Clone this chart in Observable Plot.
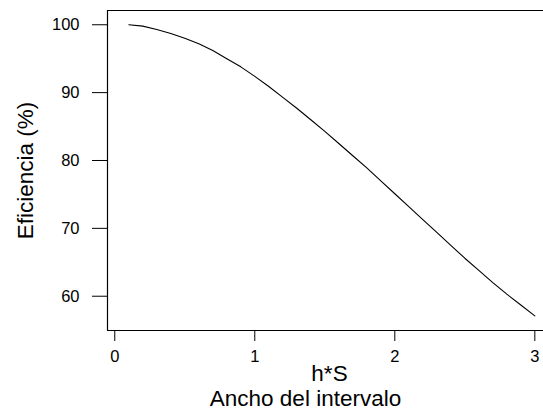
<!DOCTYPE html>
<html>
<head>
<meta charset="utf-8">
<script src="https://cdn.jsdelivr.net/npm/d3@7"></script>
<script src="https://cdn.jsdelivr.net/npm/@observablehq/plot@0.6"></script>
<style>
  html, body { margin: 0; padding: 0; background: #fff; }
  #chart svg { display: block; }
</style>
</head>
<body>
<div id="chart"></div>
<script>
// Data
const anchoIntervalo = [0.1, 0.2, 0.3, 0.4, 0.5, 0.6, 0.7, 0.8, 0.9, 1.0,
                        1.1, 1.2, 1.3, 1.4, 1.5, 1.6, 1.7, 1.8, 1.9, 2.0,
                        2.1, 2.2, 2.3, 2.4, 2.5, 2.6, 2.7, 2.8, 2.9, 3.0];
const eficiencia = [100.0, 99.8, 99.3, 98.7, 98.0, 97.2, 96.2, 95.0, 93.8, 92.4,
                    90.9, 89.3, 87.7, 86.0, 84.3, 82.5, 80.7, 78.9, 77.0, 75.1,
                    73.2, 71.3, 69.4, 67.5, 65.6, 63.8, 62.0, 60.3, 58.7, 57.1];
const xTicks = [0, 1, 2, 3];
const yTicks = [60, 70, 80, 90, 100];
const xDomain = [-0.052, 3.062];
const yDomain = [54.95, 102.1];
const yTitle = "Eficiencia (%)";
const xTitle = "h*S";
const xSubtitle = "Ancho del intervalo";

const data = anchoIntervalo.map((x, i) => ({x, y: eficiencia[i]}));

const font = "'Liberation Sans', Arial, Helvetica, sans-serif";

const chart = Plot.plot({
  width: 543,
  height: 409,
  marginLeft: 107,
  marginRight: 0,
  marginTop: 10,
  marginBottom: 79,
  style: {fontFamily: font, color: "black", background: "white", overflow: "visible"},
  x: {domain: xDomain},
  y: {domain: yDomain},
  marks: [
    Plot.ruleX([xDomain[0]], {stroke: "black", strokeWidth: 1.2}),
    Plot.ruleY([yDomain[0]], {stroke: "black", strokeWidth: 1.2}),
    Plot.ruleY([yDomain[1]], {stroke: "black", strokeWidth: 1.2}),
    Plot.axisX({ticks: xTicks, tickFormat: d => String(d), tickSize: 11, tickPadding: 9, fontSize: 16.5, label: null, stroke: "black"}),
    Plot.axisY({ticks: yTicks, tickFormat: d => String(d), tickSize: 15, tickPadding: 13, fontSize: 16.5, label: null, stroke: "black"}),
    Plot.line(data, {x: "x", y: "y", stroke: "black", strokeWidth: 1.1}),
    Plot.text([yTitle], {frameAnchor: "left", textAnchor: "middle", rotate: -90, lineAnchor: "bottom", dx: -75, dy: 0, fontSize: 22.5, fill: "black"}),
    Plot.text([xTitle], {frameAnchor: "bottom", textAnchor: "middle", lineAnchor: "bottom", dx: 4, dy: 50, fontSize: 22.5, fill: "black"}),
    Plot.text([xSubtitle], {frameAnchor: "bottom", textAnchor: "middle", lineAnchor: "bottom", dx: -20, dy: 75, fontSize: 22.5, fill: "black"})
  ]
});
document.getElementById("chart").appendChild(chart);
</script>
</body>
</html>
